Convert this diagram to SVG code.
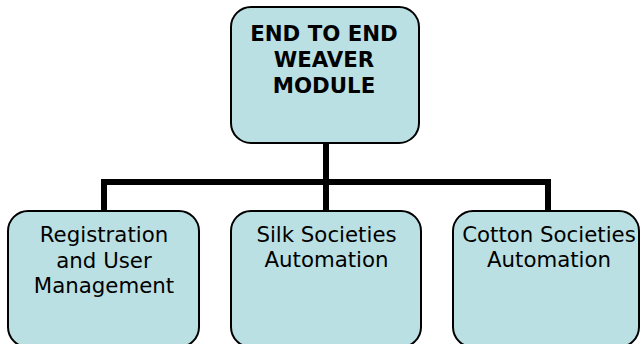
<svg xmlns="http://www.w3.org/2000/svg" width="641" height="344" viewBox="0 0 641 344">
<style>
.box{fill:#BBE0E3;stroke:#000;stroke-width:2}
.conn{fill:none;stroke:#000;stroke-width:6;stroke-linejoin:miter;stroke-linecap:butt}
text{font-family:"DejaVu Sans","Verdana",sans-serif;font-size:21.3px;fill:#000;text-anchor:middle}
.title{font-weight:bold}
</style>
<rect width="641" height="344" fill="#fff"/>
<g id="connectors">
<path class="conn" d="M326,143 V211"/>
<path class="conn" d="M104,211 V182 H548 V211"/>
</g>
<g id="root">
<rect class="box" x="231" y="7" width="188" height="136" rx="20" ry="20"/>
<text class="title" x="324" y="41">END TO END</text>
<text class="title" x="324" y="67">WEAVER</text>
<text class="title" x="324" y="92.5">MODULE</text>
</g>
<g id="registration">
<rect class="box" x="8" y="211" width="191" height="136" rx="20" ry="20"/>
<text x="104" y="241.7">Registration</text>
<text x="104" y="267.5">and User</text>
<text x="104" y="293">Management</text>
</g>
<g id="silk">
<rect class="box" x="231" y="211" width="190" height="136" rx="20" ry="20"/>
<text x="326.5" y="241.5">Silk Societies</text>
<text x="326.5" y="267">Automation</text>
</g>
<g id="cotton">
<rect class="box" x="453" y="211" width="186" height="136" rx="20" ry="20"/>
<text x="549" y="241.5">Cotton Societies</text>
<text x="549" y="267">Automation</text>
</g>
</svg>
